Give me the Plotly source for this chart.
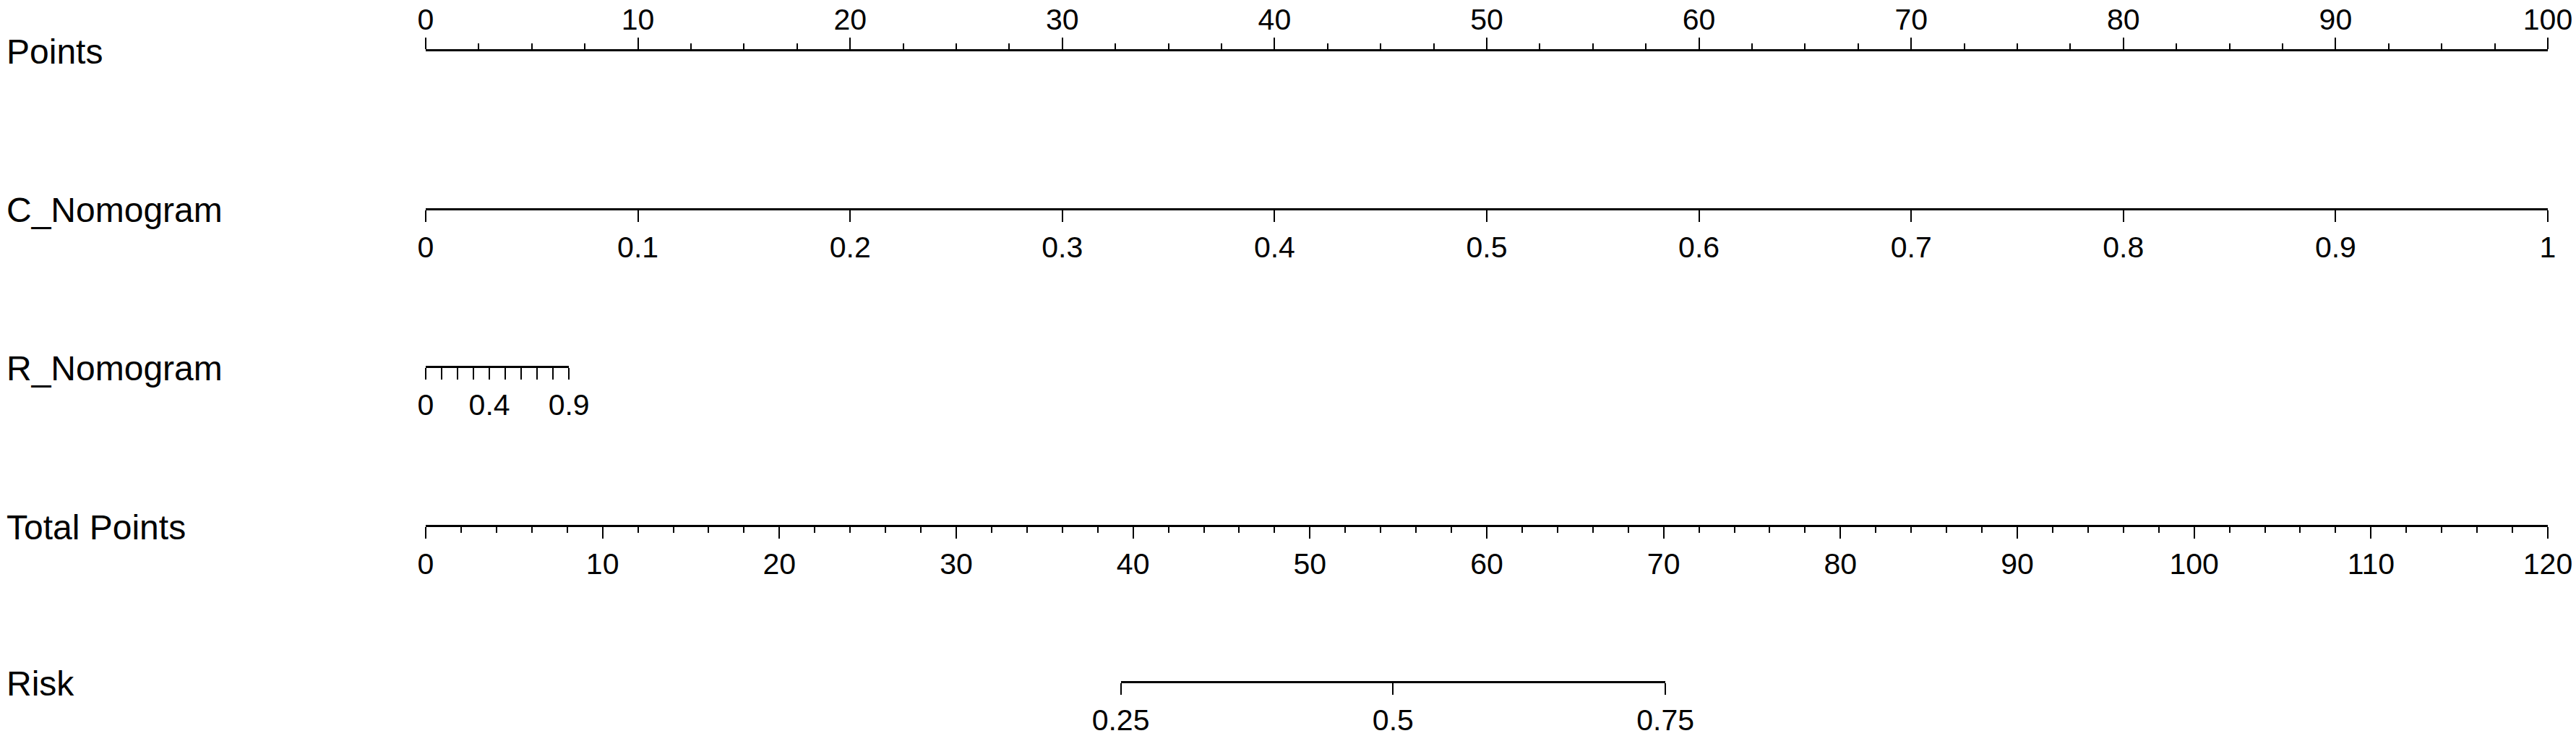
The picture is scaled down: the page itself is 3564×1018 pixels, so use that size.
import plotly.graph_objects as go

# ---- values ----
row_names = ["Points", "C_Nomogram", "R_Nomogram", "Total Points", "Risk"]

points_ticks = [0, 10, 20, 30, 40, 50, 60, 70, 80, 90, 100]

c_ticks = [0, 0.1, 0.2, 0.3, 0.4, 0.5, 0.6, 0.7, 0.8, 0.9, 1]
c_labels = ["0", "0.1", "0.2", "0.3", "0.4", "0.5", "0.6", "0.7", "0.8", "0.9", "1"]
c_points_max = 100  # points reached at C_Nomogram = 1

r_ticks = [0, 0.1, 0.2, 0.3, 0.4, 0.5, 0.6, 0.7, 0.8, 0.9]
r_labels = ["0", "", "", "", "0.4", "", "", "", "", "0.9"]
r_points_max = 6.75  # points reached at R_Nomogram = 0.9

total_ticks = [0, 10, 20, 30, 40, 50, 60, 70, 80, 90, 100, 110, 120]

risk_labels = ["0.25", "0.5", "0.75"]
risk_total_points = [39.3, 54.7, 70.1]

# ---- page geometry ----
W, H = 3564, 1018
AX_LEFT, AX_RIGHT = 589, 3525
ROW_Y = [69, 289, 507, 727, 943]
FONT = "Liberation Sans, Arial, sans-serif"
LABEL_SIZE = 48
TICK_SIZE = 41


def xfrac(px):
    return px / W


def yfrac(py):
    return 1 - py / H


def span(lo, hi, full):
    w = AX_RIGHT - AX_LEFT
    return [xfrac(AX_LEFT + lo / full * w), xfrac(AX_LEFT + hi / full * w)]


def scale_axis(domain, rng, row, tickvals, ticktext=None, side="bottom",
               minor_dtick=None, standoff=0):
    ax = dict(
        domain=domain,
        range=rng,
        anchor="free",
        position=yfrac(ROW_Y[row]),
        side=side,
        showline=True,
        linecolor="black",
        linewidth=2.5,
        ticks="outside",
        ticklen=16,
        tickwidth=2,
        tickcolor="black",
        tickmode="array",
        tickvals=tickvals,
        ticklabelstandoff=standoff,
        showgrid=False,
        zeroline=False,
        fixedrange=True,
        automargin=False,
        tickfont=dict(family=FONT, size=TICK_SIZE, color="black"),
    )
    if ticktext is not None:
        ax["ticktext"] = ticktext
    if minor_dtick is not None:
        ax["minor"] = dict(
            dtick=minor_dtick, tick0=0, ticks="outside", ticklen=8,
            tickwidth=2, tickcolor="black", showgrid=False,
        )
    return ax


fig = go.Figure()

axes = {
    "xaxis": scale_axis(span(0, 100, 100), [0, 100], 0, points_ticks,
                        side="top", minor_dtick=2.5, standoff=-5),
    "xaxis2": scale_axis(span(0, c_points_max, 100), [c_ticks[0], c_ticks[-1]], 1,
                         c_ticks, c_labels),
    "xaxis3": scale_axis(span(0, r_points_max, 100), [r_ticks[0], r_ticks[-1]], 2,
                         r_ticks, r_labels),
    "xaxis4": scale_axis(span(0, 120, 120), [total_ticks[0], total_ticks[-1]], 3,
                         total_ticks, minor_dtick=2),
    "xaxis5": scale_axis(span(risk_total_points[0], risk_total_points[-1], 120),
                         [risk_total_points[0], risk_total_points[-1]], 4,
                         risk_total_points, risk_labels),
}

# invisible carriers so every scale axis gets drawn
for i, vals in enumerate([points_ticks, c_ticks, r_ticks, total_ticks, risk_total_points]):
    fig.add_trace(go.Scatter(
        x=vals, y=[0] * len(vals), xaxis="x" if i == 0 else f"x{i + 1}", yaxis="y",
        mode="markers", marker=dict(opacity=0), hoverinfo="skip", showlegend=False,
    ))

annotations = [
    dict(text=name, x=xfrac(7), y=yfrac(ROW_Y[i] + 2), xref="paper", yref="paper",
         xanchor="left", yanchor="middle", showarrow=False,
         font=dict(family=FONT, size=LABEL_SIZE, color="black"))
    for i, name in enumerate(row_names)
]

fig.update_layout(
    width=W,
    height=H,
    margin=dict(l=0, r=0, t=0, b=0, autoexpand=False),
    paper_bgcolor="white",
    plot_bgcolor="rgba(0,0,0,0)",
    showlegend=False,
    yaxis=dict(domain=[0, 1], range=[0, 1], visible=False, fixedrange=True),
    annotations=annotations,
    **axes,
)

fig.write_html("out.html", config={"displayModeBar": False},
               post_script="document.body.style.margin='0';")
